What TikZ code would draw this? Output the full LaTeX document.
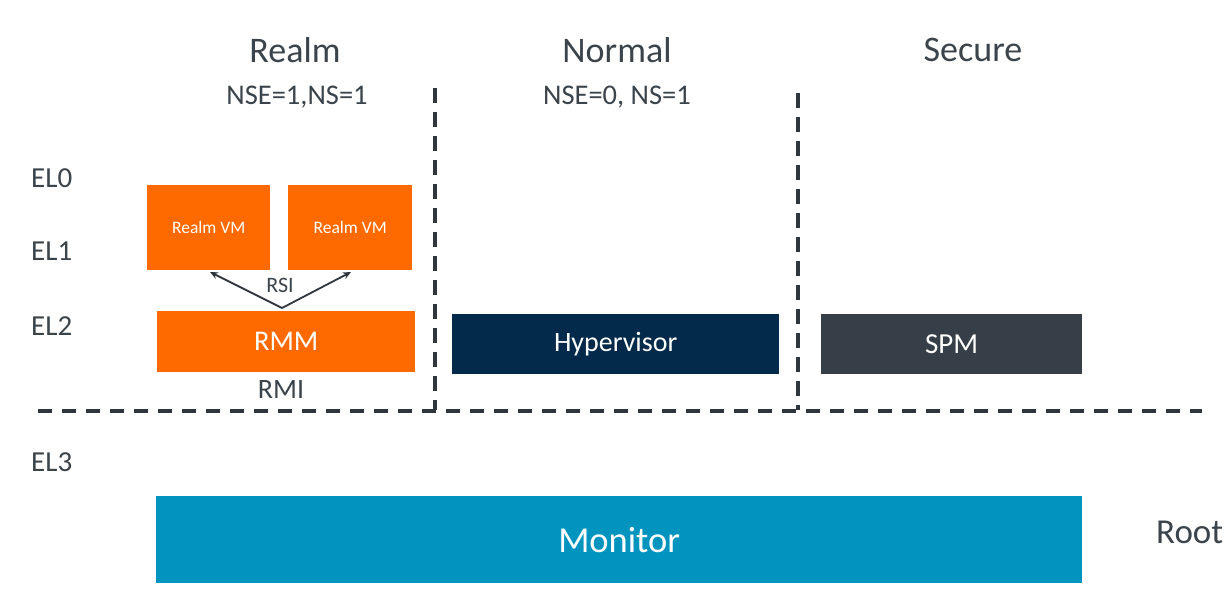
\documentclass[tikz,border=0pt]{standalone}
\usepackage{fontspec}
\setmainfont{Carlito}
\usetikzlibrary{arrows.meta}
\definecolor{txt}{HTML}{3B434B}
\definecolor{rorange}{HTML}{FF6A00}
\definecolor{hyp}{HTML}{032A4A}
\definecolor{spm}{HTML}{363E47}
\definecolor{mon}{HTML}{0094BF}
\definecolor{dash}{HTML}{2F363D}
\tikzset{
  lbl/.style={text=txt, inner sep=0pt, anchor=center},
  blk/.style={draw=none, inner sep=0pt, anchor=north west, text=white},
  sep/.style={draw=dash, line width=3.4pt, dash pattern=on 15pt off 9pt},
  arr/.style={draw=dash, line width=1.8pt, -{Stealth[length=8pt,width=7pt]}}
}
\begin{document}
\begin{tikzpicture}[x=1pt,y=-1pt]
\useasboundingbox (0,0) rectangle (1224,592);
% titles
\node[lbl, font=\fontsize{36}{36}\selectfont] (trealm) at (295,50) {Realm};
\node[lbl, font=\fontsize{36}{36}\selectfont] (tnormal) at (617,50) {Normal};
\node[lbl, font=\fontsize{36}{36}\selectfont] (tsecure) at (973,50) {Secure};
\node[lbl, font=\fontsize{28.5}{28.5}\selectfont] (nsr) at (297,97) {NSE=1,NS=1};
\node[lbl, font=\fontsize{28.5}{28.5}\selectfont] (nsn) at (617,97) {NSE=0, NS=1};
% EL labels
\node[lbl, anchor=west, font=\fontsize{29}{29}\selectfont] (el0) at (31,178) {EL0};
\node[lbl, anchor=west, font=\fontsize{29}{29}\selectfont] (el1) at (31,251) {EL1};
\node[lbl, anchor=west, font=\fontsize{29}{29}\selectfont] (el2) at (31,326) {EL2};
\node[lbl, anchor=west, font=\fontsize{29}{29}\selectfont] (el3) at (31,462) {EL3};
\node[lbl, anchor=west, font=\fontsize{35}{35}\selectfont] (root) at (1156,532) {Root};
% blocks
\node[blk, fill=rorange, minimum width=123pt, minimum height=85pt, font=\fontsize{17.5}{17.5}\selectfont] (vm1) at (147,185) {Realm VM};
\node[blk, fill=rorange, minimum width=124pt, minimum height=85pt, font=\fontsize{17.5}{17.5}\selectfont] (vm2) at (288,185) {Realm VM};
\node[blk, fill=rorange, minimum width=258pt, minimum height=61pt, font=\fontsize{28.5}{28.5}\selectfont] (rmm) at (157,311) {RMM};
\node[blk, fill=hyp, minimum width=327pt, minimum height=60pt, font=\fontsize{28}{28}\selectfont] (hv) at (452,314) {Hypervisor};
\node[blk, fill=spm, minimum width=261pt, minimum height=60pt, font=\fontsize{29}{29}\selectfont] (spmb) at (821,314) {SPM};
\node[blk, fill=mon, minimum width=926pt, minimum height=87pt, font=\fontsize{36.5}{36.5}\selectfont] (monb) at (156,496) {Monitor};
% labels
\node[lbl, font=\fontsize{22}{22}\selectfont] (rsi) at (280,285) {RSI};
\node[lbl, font=\fontsize{28}{28}\selectfont] (rmi) at (281,390) {RMI};
% arrows
\coordinate (src) at (282,308);
\draw[arr] (src) -- (210,272);
\draw[arr] (src) -- (351,272);
% separators
\coordinate (v1t) at (435,88);
\coordinate (v1b) at (435,410);
\coordinate (v2t) at (798,93);
\coordinate (v2b) at (798,410);
\coordinate (hl) at (38,411);
\coordinate (hr) at (1202,411);
\draw[sep] (v1t) -- (v1b);
\draw[sep] (v2t) -- (v2b);
\draw[sep, dash pattern=on 14pt off 10pt] (hl) -- (hr);
\end{tikzpicture}
\end{document}
